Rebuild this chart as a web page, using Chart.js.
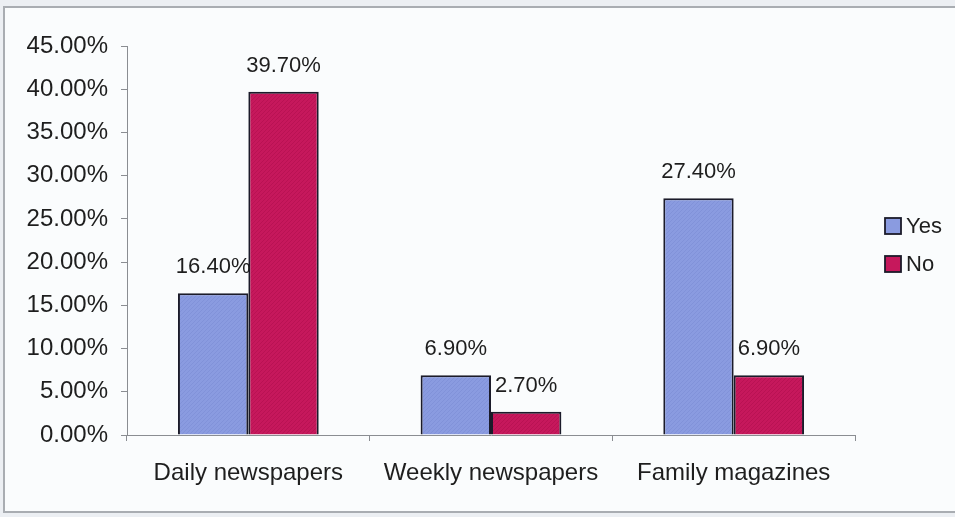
<!DOCTYPE html>
<html>
<head>
<meta charset="utf-8">
<script src="https://cdn.jsdelivr.net/npm/chart.js@4"></script>
<style>
  html, body { margin: 0; padding: 0; }
  body { width: 955px; height: 517px; overflow: hidden; background: #eceff3; position: relative; }
  #frame {
    position: absolute; left: 3px; top: 6px; width: 970px; height: 503px;
    border: 2px solid #a9adb2; background: #fafcfd;
  }
  #wrap { position: absolute; left: 0; top: 0; width: 955px; height: 517px; }
</style>
</head>
<body>
<div id="frame"></div>
<div id="wrap"><canvas id="chart" width="955" height="517"></canvas></div>
<script>
// Share of readers (percent) per publication type
const categories = ['Daily newspapers', 'Weekly newspapers', 'Family magazines'];
const seriesNames = ['Yes', 'No'];
const yesValues = [16.4, 6.9, 27.4];
const noValues = [39.7, 2.7, 6.9];
const yTicks = [0, 5, 10, 15, 20, 25, 30, 35, 40, 45];

const FONT = '"Liberation Sans", Arial, sans-serif';

// Fine diagonal texture over a solid fill, like a printed hatch
function texture(base, line) {
  const c = document.createElement('canvas');
  c.width = 4; c.height = 4;
  const g = c.getContext('2d');
  g.fillStyle = base;
  g.fillRect(0, 0, 4, 4);
  g.strokeStyle = line;
  g.lineWidth = 0.7;
  g.beginPath();
  g.moveTo(0, 4); g.lineTo(4, 0);
  g.moveTo(-1, 1); g.lineTo(1, -1);
  g.moveTo(3, 5); g.lineTo(5, 3);
  g.stroke();
  return g.createPattern(c, 'repeat');
}

const ctx = document.getElementById('chart').getContext('2d');
const yesFill = texture('#8a9be0', 'rgba(118,134,208,0.6)');
const noFill = texture('#c6185c', 'rgba(165,10,68,0.55)');
const swatch = ['#8a9be0', '#c6185c'];

// Value labels above every bar
const valueLabels = {
  id: 'valueLabels',
  afterDatasetsDraw(chart) {
    const c = chart.ctx;
    c.save();
    c.font = '22px ' + FONT;
    c.fillStyle = '#1e1e1e';
    c.textAlign = 'center';
    c.textBaseline = 'middle';
    chart.data.datasets.forEach((ds, i) => {
      chart.getDatasetMeta(i).data.forEach((bar, j) => {
        c.fillText(ds.data[j].toFixed(2) + '%', bar.x, bar.y - 26);
      });
    });
    c.restore();
  }
};

// Legend on the right, one row per series
const sideLegend = {
  id: 'sideLegend',
  afterDraw(chart) {
    const c = chart.ctx;
    const area = chart.chartArea;
    c.save();
    c.font = '22px ' + FONT;
    c.textBaseline = 'middle';
    chart.data.datasets.forEach((ds, i) => {
      const x = area.right + 30;
      const y = 226 + i * 38;
      c.fillStyle = swatch[i];
      c.fillRect(x, y - 8, 16, 16);
      c.strokeStyle = '#1b1b2a';
      c.lineWidth = 1.8;
      c.strokeRect(x, y - 8, 16, 16);
      c.fillStyle = '#1e1e1e';
      c.fillText(ds.label, x + 21, y + 1);
    });
    c.restore();
  }
};

new Chart(ctx, {
  type: 'bar',
  data: {
    labels: categories,
    datasets: [
      { label: seriesNames[0], data: yesValues, backgroundColor: yesFill,
        borderColor: '#1b1b2a', borderWidth: 2 },
      { label: seriesNames[1], data: noValues, backgroundColor: noFill,
        borderColor: '#1b1b2a', borderWidth: 2 }
    ]
  },
  options: {
    responsive: false,
    animation: false,
    events: [],
    datasets: { bar: { categoryPercentage: 0.58, barPercentage: 1.0 } },
    layout: { padding: { left: 0, right: 100, top: 46, bottom: 0 } },
    plugins: { legend: { display: false }, tooltip: { enabled: false } },
    scales: {
      x: {
        grid: { offset: true, drawOnChartArea: false, tickLength: 6, color: '#8a8d92', lineWidth: 1 },
        border: { color: '#8a8d92', width: 1 },
        ticks: { color: '#1e1e1e', font: { family: FONT, size: 24 }, padding: 18, maxRotation: 0 },
        afterFit(s) { s.height = 82; }
      },
      y: {
        min: 0, max: 45,
        afterBuildTicks(s) { s.ticks = yTicks.map(v => ({ value: v })); },
        grid: { drawOnChartArea: false, tickLength: 6, color: '#8a8d92', lineWidth: 1 },
        border: { color: '#8a8d92', width: 1 },
        ticks: { color: '#1e1e1e', font: { family: FONT, size: 24 }, padding: 13,
          callback: v => v.toFixed(2) + '%' },
        afterFit(s) { s.width = 127; }
      }
    }
  },
  plugins: [valueLabels, sideLegend]
});
</script>
</body>
</html>
